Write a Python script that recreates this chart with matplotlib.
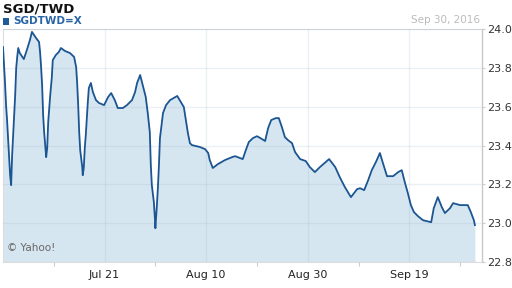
import numpy as np
import matplotlib
matplotlib.use("Agg")
import matplotlib.pyplot as plt
from matplotlib.patches import Rectangle

# days since Jul 1, 2016 and SGD/TWD rate
days = [0.0, 0.2, 0.4, 0.6, 0.8, 1.0, 1.2, 1.4, 1.6, 1.8, 2.0, 2.2, 2.4, 2.6, 2.8, 3.0,
        3.3, 4.1, 4.7, 5.3, 5.7, 6.5, 7.1, 7.3, 7.5, 7.7, 7.9, 8.1, 8.3, 8.5, 8.7, 8.9,
        9.3, 9.6, 9.8, 10.4, 11.0, 11.4, 12.2, 13.2, 14.0, 14.4, 14.6, 14.8, 15.0, 15.2,
        15.6, 15.7, 15.9, 16.1, 16.3, 16.5, 16.7, 16.9, 17.3, 17.7, 18.3, 18.9, 19.9,
        20.7, 21.3, 22.0, 22.6, 23.6, 24.4, 25.4, 26.0, 26.4, 27.0, 27.6, 28.1, 28.5,
        28.9, 29.1, 29.3, 29.7, 29.9, 30.0, 30.3, 30.5, 30.7, 30.9, 31.3, 31.5, 32.1,
        32.9, 34.3, 35.0, 35.6, 36.0, 36.4, 36.8, 37.2, 38.0, 38.8, 39.8, 40.4, 40.7,
        41.3, 42.3, 43.7, 45.1, 45.7, 46.7, 47.2, 47.8, 48.4, 49.2, 50.0, 51.0, 51.6,
        52.2, 52.8, 53.7, 54.3, 54.9, 55.5, 56.1, 56.9, 57.5, 58.5, 59.6, 60.4, 61.4,
        62.4, 64.2, 65.4, 66.3, 67.3, 68.5, 69.7, 70.3, 71.1, 71.9, 72.6, 73.4, 74.2,
        74.8, 75.6, 76.8, 77.8, 78.5, 79.1, 79.7, 80.3, 80.9, 81.7, 82.7, 84.3, 84.8,
        85.6, 86.4, 87.0, 88.0, 88.6, 90.0, 91.5, 92.1, 92.7, 92.9]
rate = [23.907, 23.814, 23.722, 23.608, 23.531, 23.438, 23.340, 23.247, 23.196, 23.351,
        23.454, 23.557, 23.660, 23.799, 23.856, 23.902, 23.876, 23.845, 23.892, 23.943,
        23.985, 23.954, 23.933, 23.881, 23.804, 23.711, 23.557, 23.469, 23.402, 23.340,
        23.387, 23.521, 23.660, 23.747, 23.840, 23.866, 23.882, 23.902, 23.887, 23.876,
        23.856, 23.804, 23.722, 23.608, 23.469, 23.376, 23.289, 23.247, 23.284, 23.387,
        23.454, 23.541, 23.624, 23.696, 23.722, 23.675, 23.634, 23.619, 23.608, 23.650,
        23.670, 23.634, 23.593, 23.593, 23.608, 23.634, 23.675, 23.722, 23.763, 23.701,
        23.650, 23.567, 23.469, 23.299, 23.196, 23.108, 23.026, 22.974, 23.093, 23.186,
        23.299, 23.438, 23.521, 23.567, 23.608, 23.634, 23.655, 23.624, 23.598, 23.531,
        23.464, 23.412, 23.402, 23.397, 23.392, 23.381, 23.361, 23.325, 23.284, 23.304,
        23.325, 23.340, 23.345, 23.335, 23.330, 23.376, 23.418, 23.438, 23.448, 23.433,
        23.423, 23.490, 23.531, 23.541, 23.541, 23.495, 23.443, 23.428, 23.412, 23.366,
        23.330, 23.320, 23.289, 23.263, 23.289, 23.330, 23.289, 23.237, 23.186, 23.134,
        23.175, 23.180, 23.170, 23.222, 23.273, 23.314, 23.361, 23.309, 23.242, 23.242,
        23.263, 23.273, 23.211, 23.155, 23.093, 23.057, 23.036, 23.015, 23.005, 23.077,
        23.134, 23.082, 23.052, 23.077, 23.103, 23.093, 23.093, 23.057, 23.015, 22.990]

major_days = [20, 40, 60, 80]
major_labels = ["Jul 21", "Aug 10", "Aug 30", "Sep 19"]
minor_days = [10, 30, 50, 70, 90]
y_ticks = [22.8, 23.0, 23.2, 23.4, 23.6, 23.8, 24.0]

line_col = "#1b5592"
fill_col = "#d6e6f1"

fig = plt.figure(figsize=(5.12, 2.88), dpi=100)
ax = fig.add_axes([3/512, 1-262/288, 479/512, 233/288])

ax.fill_between(days, rate, 22.8, color=fill_col, lw=0, zorder=1)
ax.plot(days, rate, color=line_col, lw=1.3, zorder=3)

ax.set_xlim(0, 94.3)
ax.set_ylim(22.8, 24.0)

ax.set_xticks(major_days)
ax.set_xticklabels(major_labels)
ax.set_xticks(minor_days, minor=True)
ax.tick_params(axis="x", which="major", length=0, pad=6, labelsize=8, labelcolor="#222222")
ax.tick_params(axis="x", which="minor", length=3, color="#cccccc", width=0.8)

ax.yaxis.tick_right()
ax.set_yticks(y_ticks)
ax.set_yticklabels(["%.1f" % v for v in y_ticks])
ax.tick_params(axis="y", length=2, color="#cccccc", pad=2, labelsize=8, labelcolor="#333333")

ax.grid(True, which="major", color="#8da7c4", alpha=0.17, lw=1, zorder=2)
ax.set_axisbelow(False)

for s in ["top", "left", "bottom"]:
    ax.spines[s].set_color("#dddddd")
    ax.spines[s].set_linewidth(0.8)
ax.spines["right"].set_color("#c8c8c8")
ax.spines["right"].set_linewidth(1)

fig.text(3/512, 1-2/288, "SGD/TWD", fontsize=9.5, fontweight="bold", color="#111111", va="top", ha="left")
fig.add_artist(Rectangle((3/512, 1-25/288), 6/512, 7/288, transform=fig.transFigure,
                         facecolor="#1f5a99", edgecolor="none"))
fig.text(13/512, 1-16/288, "SGDTWD=X", fontsize=7.5, fontweight="bold", color="#2a66a6", va="top", ha="left")
fig.text(480/512, 1-15/288, "Sep 30, 2016", fontsize=7.5, color="#bbbbbb", va="top", ha="right")
ax.text(0.008, 0.04, "\u00a9 Yahoo!", transform=ax.transAxes, fontsize=7.5, color="#666666", va="bottom", ha="left", zorder=4)

fig.savefig("out.png", dpi=100)
